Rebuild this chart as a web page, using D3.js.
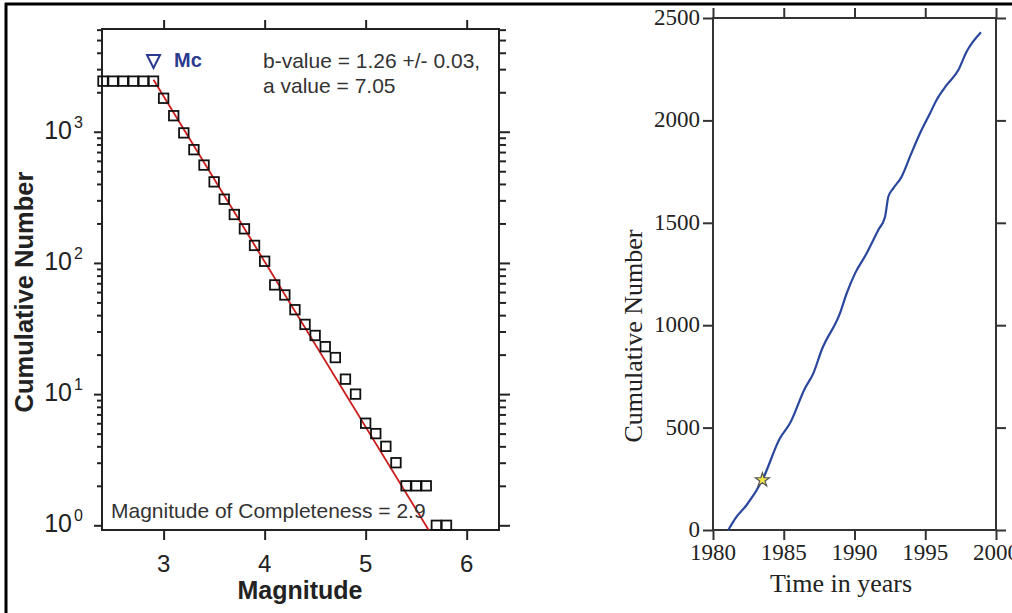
<!DOCTYPE html>
<html>
<head>
<meta charset="utf-8">
<script src="https://cdn.jsdelivr.net/npm/d3@7"></script>
<style>
  body { margin: 0; background: #fff; }
  svg { display: block; }
</style>
</head>
<body>
<svg id="chart" width="1012" height="613"></svg>
<script>
// frequency-magnitude data (left panel)
let magnitudes = [2.4, 2.5, 2.6, 2.7, 2.8, 2.9, 3.0, 3.1, 3.2, 3.3, 3.4, 3.5, 3.6, 3.7, 3.8, 3.9,
    4.0, 4.1, 4.2, 4.3, 4.4, 4.5, 4.6, 4.7, 4.8, 4.9, 5.0, 5.1, 5.2, 5.3, 5.4, 5.5, 5.6, 5.7, 5.8];
let cumCounts = [2430, 2430, 2430, 2430, 2430, 2430, 1800, 1325, 980, 730, 557, 415, 306, 234, 182, 136,
    103, 68, 57, 44, 34, 28, 23, 19, 13, 10, 6, 5, 4, 3, 2, 2, 2, 1, 1];
let magTicks = [3, 4, 5, 6];
let decadeTicks = [0, 1, 2, 3];
let mc = 2.9;
let bValue = 1.26, bErr = 0.03, aValue = 7.05;

// cumulative number vs time (right panel)
let years = [1981.08, 1981.67, 1982.38, 1983.49, 1984.73, 1985.44, 1986.5, 1987.09, 1987.68, 1988.97,
    1989.45, 1990.04, 1990.86, 1991.68, 1992.16, 1992.39, 1992.74, 1993.33, 1993.92, 1994.63,
    1995.34, 1995.8, 1996.52, 1997.34, 1997.92, 1998.94];
let cumNumber = [0, 65, 122, 244, 448, 521, 692, 765, 879, 1058,
    1156, 1253, 1351, 1465, 1530, 1627, 1668, 1725, 1823, 1937,
    2035, 2100, 2173, 2246, 2335, 2430];
let yearTicks = [1980, 1985, 1990, 1995, 2000];
let countTicks = [0, 500, 1000, 1500, 2000, 2500];
let mcTime = 1983.49, mcCount = 244;

let svg = d3.select('#chart');
let ink = '#222';

// frame of the figure
svg.append('line').attr('x1', 5).attr('x2', 1012).attr('y1', 4).attr('y2', 4)
    .attr('stroke', '#000').attr('stroke-width', 3);
svg.append('line').attr('x1', 6).attr('x2', 6).attr('y1', 3).attr('y2', 613)
    .attr('stroke', '#000').attr('stroke-width', 3);

// ---------- left panel ----------
let L = { left: 102, right: 499, top: 29, bottom: 530 };
let x = d3.scaleLinear().domain([2.39, 6.32]).range([L.left, L.right]);
let y = d3.scaleLog().domain([0.921, 6070]).range([L.bottom, L.top]);

let left = svg.append('g').style('font-family', '"Liberation Sans", Arial, sans-serif');

let minorVals = [];
decadeTicks.forEach(e => {
    for (let k = 2; k <= 9; k++) {
        let v = k * Math.pow(10, e);
        if (v < y.domain()[1]) minorVals.push(v);
    }
});

function styleAxis(g) {
    g.select('.domain').remove();
    g.selectAll('line').attr('stroke', ink).attr('stroke-width', 2);
}

left.append('g').attr('transform', `translate(${L.left},0)`)
    .call(d3.axisLeft(y).tickValues(decadeTicks.map(e => Math.pow(10, e))).tickSize(8).tickFormat(''))
    .call(styleAxis);
left.append('g').attr('transform', `translate(${L.left},0)`)
    .call(d3.axisLeft(y).tickValues(minorVals).tickSize(5).tickFormat(''))
    .call(styleAxis);
left.append('g').attr('transform', `translate(${L.right},0)`)
    .call(d3.axisRight(y).tickValues(decadeTicks.map(e => Math.pow(10, e))).tickSize(11).tickFormat(''))
    .call(styleAxis);
left.append('g').attr('transform', `translate(${L.right},0)`)
    .call(d3.axisRight(y).tickValues(minorVals).tickSize(7).tickFormat(''))
    .call(styleAxis);
left.append('g').attr('transform', `translate(0,${L.bottom})`)
    .call(d3.axisBottom(x).tickValues(magTicks).tickSize(10).tickFormat(''))
    .call(styleAxis);
left.append('g').attr('transform', `translate(0,${L.top})`)
    .call(d3.axisTop(x).tickValues(magTicks).tickSize(9).tickFormat(''))
    .call(styleAxis);

left.append('rect')
    .attr('x', L.left).attr('y', L.top)
    .attr('width', L.right - L.left).attr('height', L.bottom - L.top)
    .attr('fill', 'none').attr('stroke', ink).attr('stroke-width', 2);

// tick labels
left.selectAll('.xlab').data(magTicks).join('text')
    .attr('x', d => x(d)).attr('y', 572)
    .attr('text-anchor', 'middle')
    .style('font-size', '24px').attr('fill', ink)
    .text(d => d);

let decLab = left.selectAll('.ylab').data(decadeTicks).join('g')
    .attr('transform', d => `translate(0,${y(Math.pow(10, d))})`);
decLab.append('text')
    .attr('x', 72).attr('y', 7)
    .attr('text-anchor', 'end')
    .style('font-size', '25px').attr('fill', ink)
    .text('10');
decLab.append('text')
    .attr('x', 74).attr('y', -4)
    .style('font-size', '16px').attr('fill', ink)
    .text(d => d);

left.append('text')
    .attr('x', 300).attr('y', 599)
    .attr('text-anchor', 'middle')
    .style('font-size', '25px').style('font-weight', 'bold').attr('fill', ink)
    .text('Magnitude');
left.append('text')
    .attr('transform', 'translate(33,292) rotate(-90)')
    .attr('text-anchor', 'middle')
    .style('font-size', '25.5px').style('font-weight', 'bold').attr('fill', ink)
    .text('Cumulative Number');

// fitted line log N = a - b M
let plot = left.append('g');
plot.append('clipPath').attr('id', 'clipL').append('rect')
    .attr('x', L.left).attr('y', L.top).attr('width', L.right - L.left).attr('height', L.bottom - L.top);
let fitM = [mc, (aValue - Math.log10(y.domain()[0])) / bValue];
plot.append('path')
    .datum(fitM)
    .attr('clip-path', 'url(#clipL)')
    .attr('d', d3.line().x(d => x(d)).y(d => y(Math.pow(10, aValue - bValue * d))))
    .attr('stroke', '#cc1c1c').attr('stroke-width', 1.8).attr('fill', 'none');

// squares
let sq = 9.5;
plot.selectAll('rect.pt').data(magnitudes).join('rect')
    .attr('class', 'pt')
    .attr('x', d => x(d) - sq / 2)
    .attr('y', (d, i) => y(cumCounts[i]) - sq / 2)
    .attr('width', sq).attr('height', sq)
    .attr('fill', 'none').attr('stroke', '#111').attr('stroke-width', 1.8);

// Mc marker
let mcX = x(mc);
left.append('path')
    .attr('d', `M${mcX - 6.5},55 L${mcX + 6.5},55 L${mcX},68 Z`)
    .attr('fill', 'none').attr('stroke', '#2b3a8f').attr('stroke-width', 2);
left.append('text')
    .attr('x', 174).attr('y', 67)
    .style('font-size', '20px').style('font-weight', 'bold').attr('fill', '#2b3a8f')
    .text('Mc');

left.append('text')
    .attr('x', 263).attr('y', 68)
    .style('font-size', '21px').attr('fill', '#333')
    .text(`b-value = ${bValue.toFixed(2)} +/- ${bErr.toFixed(2)},`);
left.append('text')
    .attr('x', 263).attr('y', 93)
    .style('font-size', '21px').attr('fill', '#333')
    .text(`a value = ${aValue.toFixed(2)}`);
left.append('text')
    .attr('x', 111).attr('y', 518)
    .style('font-size', '21px').attr('fill', '#333')
    .text(`Magnitude of Completeness = ${mc.toFixed(1)}`);

// ---------- right panel ----------
let R = { left: 713, right: 996, top: 18, bottom: 530 };
let tx = d3.scaleLinear().domain([1980, 2000]).range([R.left, R.right]);
let ty = d3.scaleLinear().domain([0, 2500]).range([R.bottom, R.top]);

let right = svg.append('g').style('font-family', '"Liberation Serif", "Times New Roman", serif');
let ink2 = '#333';

function styleAxis2(g) {
    g.select('.domain').remove();
    g.selectAll('line').attr('stroke', ink2).attr('stroke-width', 2);
}

right.append('g').attr('transform', `translate(${R.left},0)`)
    .call(d3.axisLeft(ty).tickValues(countTicks).tickSize(10).tickFormat(''))
    .call(styleAxis2);
right.append('g').attr('transform', `translate(${R.right},0)`)
    .call(d3.axisRight(ty).tickValues(countTicks).tickSize(10).tickFormat(''))
    .call(styleAxis2);
right.append('g').attr('transform', `translate(0,${R.bottom})`)
    .call(d3.axisBottom(tx).tickValues(yearTicks).tickSize(10).tickFormat(''))
    .call(styleAxis2);
right.append('g').attr('transform', `translate(0,${R.top})`)
    .call(d3.axisTop(tx).tickValues(yearTicks).tickSize(10).tickFormat(''))
    .call(styleAxis2);
right.append('rect')
    .attr('x', R.left).attr('y', R.top)
    .attr('width', R.right - R.left).attr('height', R.bottom - R.top)
    .attr('fill', 'none').attr('stroke', ink2).attr('stroke-width', 2);

right.selectAll('.cl').data(countTicks).join('text')
    .attr('x', 700).attr('y', d => ty(d) + 7)
    .attr('text-anchor', 'end')
    .style('font-size', '23px').attr('fill', '#222')
    .text(d => d);
right.selectAll('.yl').data(yearTicks).join('text')
    .attr('x', d => tx(d)).attr('y', 560)
    .attr('text-anchor', 'middle')
    .style('font-size', '23px').attr('fill', '#222')
    .text(d => d);
right.append('text')
    .attr('x', 841).attr('y', 592)
    .attr('text-anchor', 'middle')
    .style('font-size', '26px').attr('fill', '#222')
    .text('Time in years');
right.append('text')
    .attr('transform', 'translate(642,336) rotate(-90)')
    .attr('text-anchor', 'middle')
    .style('font-size', '26px').attr('fill', '#222')
    .text('Cumulative Number');

right.append('path')
    .datum(years.map((d, i) => [d, cumNumber[i]]))
    .attr('d', d3.line().curve(d3.curveMonotoneX).x(d => tx(d[0])).y(d => ty(d[1])))
    .attr('fill', 'none').attr('stroke', '#2a479d').attr('stroke-width', 2.2);

right.append('path')
    .attr('transform', `translate(${tx(mcTime)},${ty(mcCount)})`)
    .attr('d', d3.symbol().type(d3.symbolStar).size(60)())
    .attr('fill', '#f3e84a').attr('stroke', '#555').attr('stroke-width', 1.2);
</script>
</body>
</html>
